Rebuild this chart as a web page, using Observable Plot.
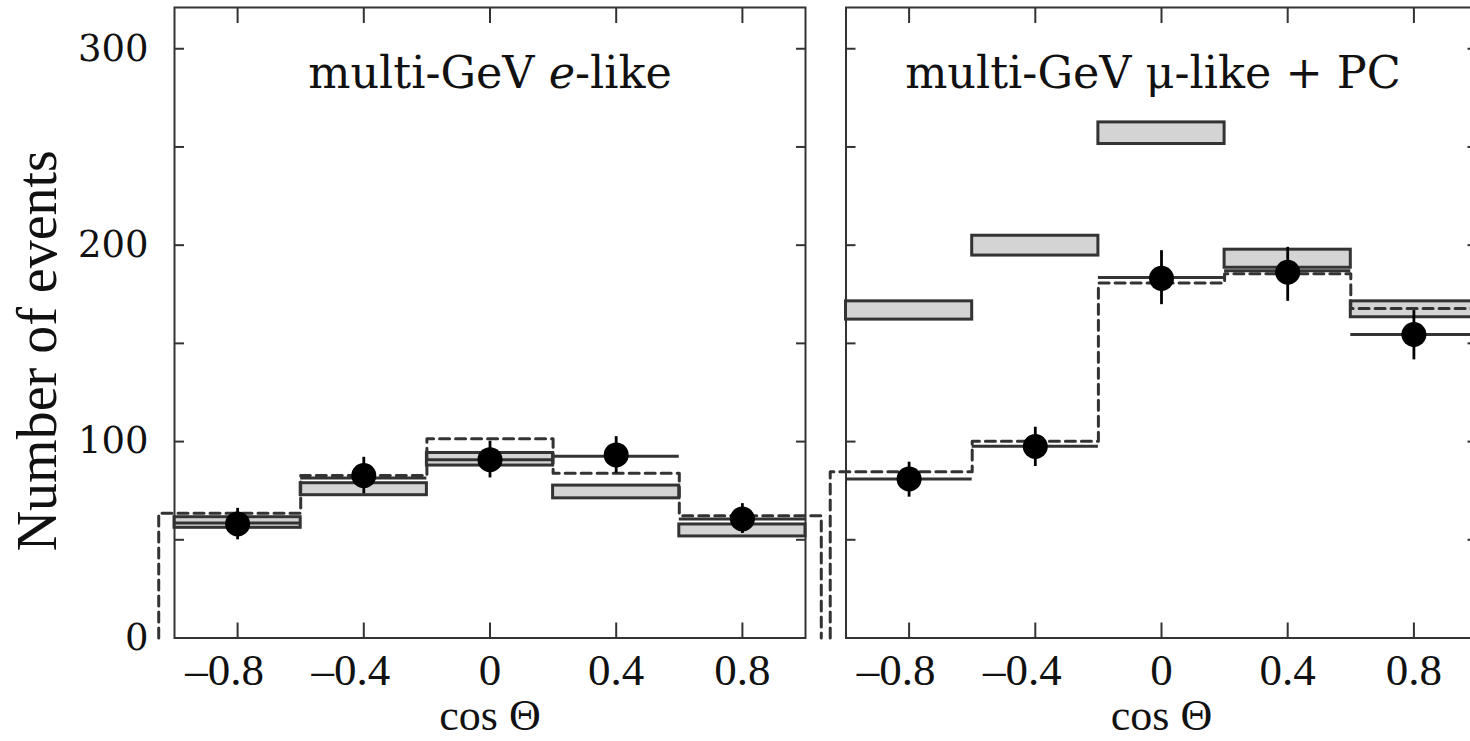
<!DOCTYPE html>
<html>
<head>
<meta charset="utf-8">
<script src="https://cdn.jsdelivr.net/npm/d3@7"></script>
<script src="https://cdn.jsdelivr.net/npm/@observablehq/plot@0.6"></script>
<style>
  html, body { margin: 0; padding: 0; background: #fff; }
  #wrap { position: relative; width: 1470px; height: 741px; overflow: hidden; background: #fff; }
  #wrap svg { position: absolute; top: 0; }
  .ttl { position: absolute; top: 51px; font-family: "DejaVu Serif", serif; font-size: 44.5px; line-height: 1; color: #111; white-space: nowrap; transform: translateX(-50%); }
</style>
</head>
<body>
<div id="wrap"></div>
<script>
// ---- data ----
const binLo = [-1, -0.6, -0.2, 0.2, 0.6];
const binHi = [-0.6, -0.2, 0.2, 0.6, 1];
const binCenters = [-0.8, -0.4, 0, 0.4, 0.8];
const dashEdges = [-1.05, -0.6, -0.2, 0.2, 0.6, 1.05];
const xTicks = [-0.8, -0.4, 0, 0.4, 0.8];
const yTicksMinor = [0, 50, 100, 150, 200, 250, 300];
const yTickLabels = [0, 100, 200, 300];

// multi-GeV e-like
const eBoxLo  = [56.1, 72.7, 87.8, 71.1, 51.7];
const eBoxHi  = [61.5, 78.8, 94.2, 77.6, 57.8];
const eFit    = [58.6, 81.5, 90.8, 92.5, 60.6];
const eDashed = [63.5, 82.7, 101.4, 83.9, 62.3];
const eObs    = [58.1, 82.7, 90.8, 93.2, 60.6];
const eErrLo  = [50.0, 73.4, 81.5, 83.9, 53.2];
const eErrHi  = [66.0, 92.0, 100.2, 102.5, 68.4];

// multi-GeV mu-like + PC
const mBoxLo  = [162.1, 194.7, 251.5, 188.5, 163.3];
const mBoxHi  = [171.4, 204.8, 262.5, 197.7, 171.4];
const mFit    = [81.0, 97.6, 183.6, 187.0, 154.5];
const mDashed = [84.7, 100.2, 180.8, 185.5, 167.8];
const mObs    = [81.0, 97.5, 183.1, 186.2, 154.5];
const mErrLo  = [71.7, 87.3, 169.7, 171.4, 141.6];
const mErrHi  = [89.5, 107.3, 197.2, 198.9, 166.7];

const titles = ["multi-GeV <i>e</i>-like", "multi-GeV \u03bc-like + PC"];
const xLabel = "cos \u0398";
const yLabel = "Number of events";

const ink = "#333";
const fmt = d => d === 0 ? "0" : (d < 0 ? "\u2013" : "") + Math.abs(d);

function panel(o) {
  const bins = binCenters.map((c, i) => ({
    c, lo: binLo[i], hi: binHi[i], bLo: o.boxLo[i], bHi: o.boxHi[i],
    fit: o.fit[i], obs: o.obs[i], eLo: o.errLo[i], eHi: o.errHi[i]
  }));
  const step = [{x: dashEdges[0], y: 0}];
  o.dashed.forEach((v, i) => { step.push({x: dashEdges[i], y: v}); step.push({x: dashEdges[i + 1], y: v}); });
  step.push({x: dashEdges[dashEdges.length - 1], y: 0});

  const negTicks = xTicks.filter(d => d < 0);
  const posTicks = xTicks.filter(d => d >= 0);
  const tickText = {anchor: "bottom", tickSize: 0, tickPadding: 15, tickFormat: fmt, label: null,
    fontFamily: "Liberation Serif", fontSize: 45, fill: "#111"};

  const marks = [
    Plot.rect(bins, {x1: "lo", x2: "hi", y1: "bLo", y2: "bHi", fill: "#d4d4d4", stroke: ink, strokeWidth: 3}),
    Plot.ruleY(bins, {y: "fit", x1: "lo", x2: "hi", stroke: ink, strokeWidth: 3}),
    Plot.line(step, {x: "x", y: "y", stroke: ink, strokeWidth: 3, strokeDasharray: "10,6"}),
    Plot.ruleX(bins, {x: "c", y1: "eLo", y2: "eHi", stroke: "#000", strokeWidth: 2.8}),
    Plot.dot(bins, {x: "c", y: "obs", r: 12.5, fill: "#000", stroke: "none"}),
    Plot.frame({stroke: ink, strokeWidth: 2}),
    Plot.axisX(xTicks, {anchor: "bottom", tickSize: -15, tickFormat: () => "", label: null, stroke: ink, strokeWidth: 2}),
    Plot.axisX(xTicks, {anchor: "top", tickSize: -15, tickFormat: () => "", label: null, stroke: ink, strokeWidth: 2}),
    Plot.axisY(yTicksMinor, {anchor: "left", tickSize: -10, tickFormat: () => "", label: null, stroke: ink, strokeWidth: 2}),
    Plot.axisY(yTicksMinor, {anchor: "right", tickSize: -10, tickFormat: () => "", label: null, stroke: ink, strokeWidth: 2}),
    Plot.axisX(negTicks, {...tickText, dx: -13}),
    Plot.axisX(posTicks, tickText),
    Plot.text([xLabel], {text: d => d, frameAnchor: "bottom", dy: 92, fontFamily: "Liberation Serif", fontSize: 44, fill: "#111"})
  ];
  if (o.showY) {
    marks.push(
      Plot.axisY(yTickLabels, {anchor: "left", tickSize: 0, tickPadding: 26, tickFormat: fmt, label: null,
        fontFamily: "DejaVu Serif", fontSize: 37, fill: "#111"}),
      Plot.text([yLabel], {text: d => d, frameAnchor: "left", textAnchor: "middle", rotate: -90, dx: -136, dy: 28,
        fontFamily: "Liberation Serif", fontSize: 56, fill: "#111"})
    );
  }
  const svg = Plot.plot({
    width: o.width, height: 741,
    marginLeft: o.marginLeft, marginRight: o.marginRight, marginTop: 7, marginBottom: 103.5,
    x: {domain: [-1, 1], label: null},
    y: {domain: [0, 321], label: null},
    style: {background: "transparent", overflow: "visible", maxWidth: "none"},
    marks
  });
  svg.style.left = o.left + "px";
  return svg;
}

const wrap = document.getElementById("wrap");
wrap.appendChild(panel({left: 0, width: 840, marginLeft: 174, marginRight: 35, showY: true,
  boxLo: eBoxLo, boxHi: eBoxHi, fit: eFit, dashed: eDashed, obs: eObs, errLo: eErrLo, errHi: eErrHi}));
wrap.appendChild(panel({left: 780, width: 720, marginLeft: 65.5, marginRight: 23.5, showY: false,
  boxLo: mBoxLo, boxHi: mBoxHi, fit: mFit, dashed: mDashed, obs: mObs, errLo: mErrLo, errHi: mErrHi}));

const tPos = [490, 1153];
titles.forEach((t, i) => {
  const d = document.createElement("div");
  d.className = "ttl";
  d.style.left = tPos[i] + "px";
  d.innerHTML = t;
  wrap.appendChild(d);
});
</script>
</body>
</html>
